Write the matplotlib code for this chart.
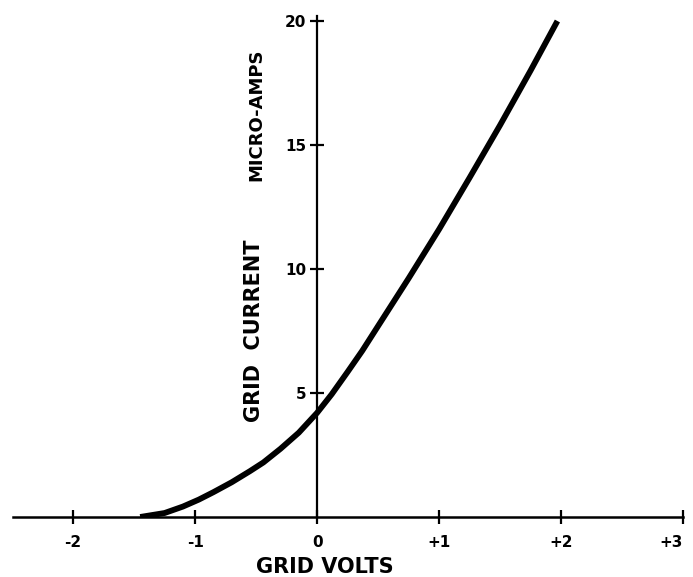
"""Grid current vs grid volts characteristic"""

import matplotlib
matplotlib.use('Agg')
import matplotlib.pyplot as plt

# curve (volts, micro-amps)
grid_volts = [-1.45, -1.25, -1.1, -0.97, -0.85, -0.7, -0.55, -0.44, -0.3,
              -0.15, 0.0, 0.12, 0.25, 0.37, 0.5, 0.75, 1.0, 1.25, 1.5,
              1.75, 1.97]
grid_current = [0.0, 0.16, 0.42, 0.7, 1.0, 1.4, 1.85, 2.2, 2.75,
                3.4, 4.2, 4.95, 5.85, 6.7, 7.7, 9.62, 11.6, 13.68, 15.8,
                18.0, 20.0]

x_ticks = [-2, -1, 0, 1, 2, 3]
x_tick_labels = ['-2', '-1', '0', '+1', '+2', '+3']
y_ticks = [5, 10, 15, 20]
y_tick_labels = ['5', '10', '15', '20']

fig = plt.figure(figsize=(6.93, 5.77), dpi=100)
ax = fig.add_axes([0.00866, 0.104, 0.977, 0.8854])

ax.plot(grid_volts, grid_current, color='black', linewidth=4.2,
        solid_capstyle='butt', solid_joinstyle='round')

ax.set_xlim(-2.55, 3.0)
ax.set_ylim(0, 20.6)

# cross-style axes through the origin
for side in ['top', 'right']:
    ax.spines[side].set_visible(False)
ax.spines['left'].set_position(('data', 0))
ax.spines['bottom'].set_position(('data', 0))
ax.spines['left'].set_bounds(0, 20.2)
ax.spines['bottom'].set_bounds(-2.49, 3.0)
ax.spines['left'].set_linewidth(1.6)
ax.spines['bottom'].set_linewidth(1.8)

ax.set_xticks(x_ticks)
ax.set_xticklabels(x_tick_labels, fontsize=11, fontweight='bold')
ax.get_xticklabels()[-1].set_ha('right')
ax.set_yticks(y_ticks)
ax.set_yticklabels(y_tick_labels, fontsize=11, fontweight='bold')
ax.tick_params(axis='x', direction='inout', length=10, width=1.6, pad=8)
ax.tick_params(axis='y', direction='inout', length=10, width=1.6, pad=3)

ax.text(0.06, -2.0, 'GRID VOLTS', fontsize=15, fontweight='bold',
        ha='center', va='center')
ax.text(-0.52, 7.5, 'GRID  CURRENT', fontsize=15, fontweight='bold',
        rotation=90, ha='center', va='center')
ax.text(-0.5, 16.2, 'MICRO-AMPS', fontsize=13, fontweight='bold',
        rotation=90, ha='center', va='center')

fig.savefig('out.png', dpi=100)
